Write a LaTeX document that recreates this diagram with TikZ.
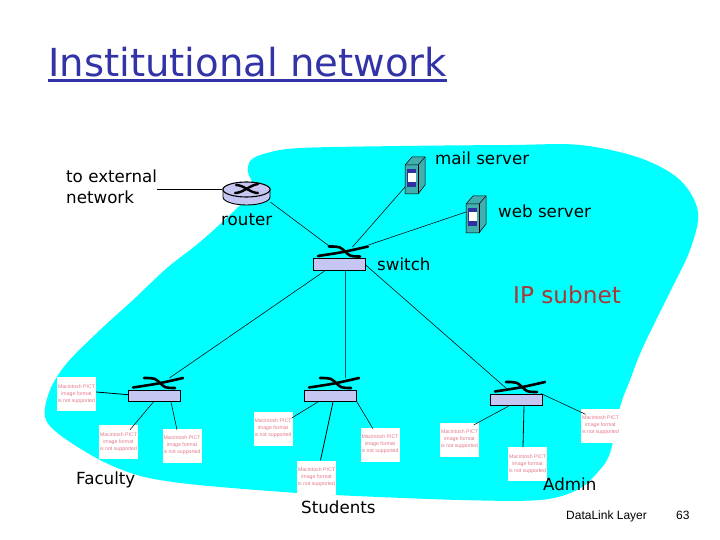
\documentclass[tikz,border=0pt]{standalone}
\usepackage{fontspec}
\usetikzlibrary{shapes.geometric}
\setmainfont{DejaVu Sans}
\newfontfamily\arialf{Liberation Sans}
\definecolor{blob}{HTML}{00FFFF}
\definecolor{lav}{HTML}{C6C6F2}
\definecolor{titleblue}{HTML}{3333A8}
\definecolor{subred}{HTML}{A83838}
\definecolor{pict}{HTML}{E4788A}
\definecolor{srv}{HTML}{3FAFAF}
\definecolor{srvblue}{HTML}{3030A0}
\tikzset{
  x=1bp,y=-1bp,
  lbl/.style={anchor=base west,inner sep=0pt,font=\fontsize{16.7bp}{20bp}\selectfont,text=black},
  foot/.style={anchor=base west,inner sep=0pt,font=\arialf\fontsize{12bp}{14bp}\selectfont,text=black},
  pictbox/.style={fill=white,inner sep=0pt,minimum width=39bp,minimum height=34bp,align=center,text=pict,font=\arialf\fontsize{5.2bp}{7bp}\selectfont},
  swbox/.style={draw=black,line width=0.9bp,fill=lav,inner sep=0pt,minimum width=52bp,minimum height=11.5bp},
  wire/.style={line width=0.55bp,black},
  swbar/.style={line width=2.6bp,black,line cap=round},
  swx/.pic={
    \draw[swbar] plot[smooth,tension=0.5] coordinates {(5,-2) (30,-6) (55,-11.5)};
    \draw[swbar] plot[smooth,tension=0.5] coordinates {(16,-11.5) (27,-10.5) (37,-2.5) (47,-1.5)};
  },
  server/.pic={
    \draw[line width=0.5bp,fill=srv] (0,0) -- (0,29) -- (13,29) -- (20,20) -- (20,-8) -- (7,-8) -- cycle;
    \draw[line width=0.5bp] (0,0) -- (13,0) -- (20,-8);
    \draw[line width=0.5bp] (13,0) -- (13,29);
    \fill[srvblue] (2.3,4.5) rectangle (11,22);
    \fill[white] (2.6,8.5) rectangle (10.7,16.8);
  }
}
\begin{document}
\begin{tikzpicture}
\useasboundingbox (0,0) rectangle (720,540);
\fill[white] (0,0) rectangle (720,540);
\fill[blob] plot[smooth cycle,tension=0.55] coordinates {
 (248,172) (251,160) (267,153) (300,148) (400,146) (510,145) (580,145) (640,158) (680,180) (698,212)
 (690,250) (670,292) (643,347) (630,380) (620,407) (610,453) (597,473) (577,490) (540,500)
 (460,500) (333,495) (297,493) (220,487) (173,482) (137,475) (100,460) (60,435) (45,417) (50,390)
 (67,363) (100,330) (133,300) (167,268) (200,242) (233,212) (253,190)};

% title
\node[anchor=base west,inner sep=0pt,text=titleblue,font=\fontsize{38.6bp}{44bp}\selectfont] (title) at (48,77) {Institutional network};
\coordinate (ulA) at (48,80.5);
\coordinate (ulB) at (447,80.5);
\draw[titleblue,line width=2.6bp] (ulA) -- (ulB);

% router
\fill[lav] (223,188) -- (223,197) arc[start angle=180,end angle=360,x radius=23.5,y radius=-8] -- (270,188) -- cycle;
\draw[line width=0.9bp] (223,188) -- (223,197) arc[start angle=180,end angle=360,x radius=23.5,y radius=-8] -- (270,188);
\node[draw=black,line width=1.1bp,fill=lav,ellipse,inner sep=0pt,minimum width=47bp,minimum height=15bp] (router) at (246.5,189.5) {};
\draw[black,line width=2.4bp,line cap=round] (236,185) .. controls (244,185) and (250,193) .. (258,193);
\draw[black,line width=2.4bp,line cap=round] (235,193) .. controls (243,193) and (250,185) .. (258,184);
\coordinate (ext) at (157,189.5);

% switches
\node[swbox,anchor=north west] (sw0) at (313,258) {};
\node[swbox,anchor=north west] (sw1) at (128,389.5) {};
\node[swbox,anchor=north west] (sw2) at (304,389.5) {};
\node[swbox,anchor=north west] (sw3) at (490,393.5) {};
\foreach \b in {sw0,sw1,sw2,sw3} \pic at (\b.north west) {swx};

% servers
\pic at (405,165) {server};
\coordinate (mailsrv) at (405,187);
\pic at (466,204) {server};
\coordinate (websrv) at (466,212);

% image placeholders
\newcommand{\picttext}{Macintosh PICT\\image format\\is not supported}
\node[pictbox] (a) at (76.5,394) {\picttext};
\node[pictbox] (b) at (118.5,442) {\picttext};
\node[pictbox] (c) at (182,445.5) {\picttext};
\node[pictbox] (d) at (273,428.5) {\picttext};
\node[pictbox] (e) at (316.5,477.5) {\picttext};
\node[pictbox] (f) at (380,444.5) {\picttext};
\node[pictbox] (g) at (459.5,439.5) {\picttext};
\node[pictbox] (h) at (527.5,464) {\picttext};
\node[pictbox] (i) at (600.5,425.5) {\picttext};

% connectors
\draw[wire,line width=0.9bp] (ext) -- (router.west);
\draw[wire] ([xshift=7bp,yshift=-7bp]router.south east) -- ([xshift=-9bp,yshift=11bp]sw0.north);
\draw[wire] (mailsrv) -- ([xshift=13bp,yshift=11bp]sw0.north);
\draw[wire] (websrv) -- ([xshift=29bp,yshift=13bp]sw0.north);
\draw[wire] ([xshift=-14bp]sw0.south) -- ([xshift=15bp,yshift=11.5bp]sw1.north);
\draw[wire] ([xshift=6bp]sw0.south) -- ([xshift=15bp,yshift=11.5bp]sw2.north);
\draw[wire] ([yshift=-1bp]sw0.east) -- ([xshift=-10bp,yshift=5bp]sw3.north);
\draw[wire,line width=0.8bp] ([yshift=2bp]a.east) -- ([yshift=1bp]sw1.west);
\draw[wire] ([xshift=-1bp]sw1.south) -- ([xshift=11.5bp,yshift=-5bp]b.north);
\draw[wire] ([xshift=43bp]sw1.south west) -- ([xshift=-5bp,yshift=-1.5bp]c.north);
\draw[wire] ([xshift=14bp]sw2.south west) -- ([xshift=-1bp,yshift=10.5bp]d.east);
\draw[wire,line width=0.8bp] ([xshift=29bp]sw2.south west) -- ([xshift=4bp]e.north);
\draw[wire] (sw2.south east) -- ([xshift=-7bp,yshift=-1.5bp]f.north);
\draw[wire] ([xshift=19bp]sw3.south west) -- ([xshift=14.5bp,yshift=-2.5bp]g.north);
\draw[wire,line width=0.8bp] ([xshift=34bp]sw3.south west) -- ([xshift=-4.5bp]h.north);
\draw[wire] ([xshift=-2bp]sw3.north east) -- ([xshift=-15bp,yshift=-6bp]i.north);

% labels
\node[lbl] (l1) at (66,183) {to external};
\node[lbl] (l2) at (66,204) {network};
\node[lbl] (mail) at (435,165) {mail server};
\node[lbl] (web) at (498,218) {web server};
\node[lbl] (rlab) at (221,226) {router};
\node[lbl] (slab) at (377,271) {switch};
\node[anchor=base west,inner sep=0pt,text=subred,font=\fontsize{23.2bp}{28bp}\selectfont] (ip) at (513,303) {IP subnet};
\node[lbl] (fac) at (76,484) {Faculty};
\node[lbl] (stu) at (301,513) {Students};
\node[lbl] (adm) at (543,490) {Admin};
\node[foot] (dl) at (566,519) {DataLink Layer};
\node[foot] (pg) at (676,519) {63};
\end{tikzpicture}
\end{document}
